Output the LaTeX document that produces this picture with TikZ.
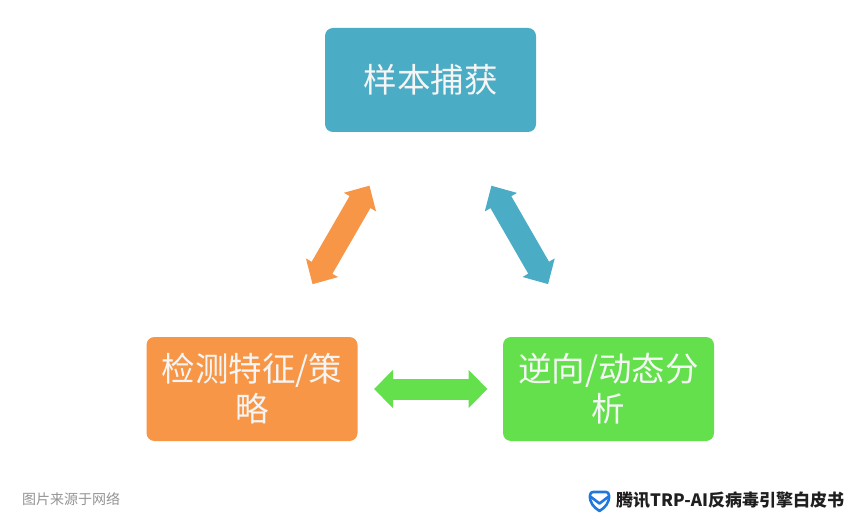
\documentclass[tikz,border=0pt]{standalone}
\usepackage{fontspec}
\usetikzlibrary{arrows.meta}
\newfontfamily\cjk{Noto Sans CJK SC}
\newcommand{\lift}[1]{\raisebox{1.5pt}{#1}}
\definecolor{bluebox}{HTML}{4BACC6}
\definecolor{orangebox}{HTML}{F79646}
\definecolor{greenbox}{HTML}{63E04C}
\definecolor{shieldblue}{HTML}{1F78E0}
\tikzset{
  procbox/.style={rounded corners=8pt,minimum width=211pt,minimum height=104pt,inner sep=0pt,align=center,text=white!96!black,
    font=\cjk\fontsize{33.5}{40}\selectfont},
  blockarrow/.style={line width=21pt,{Triangle[length=19pt,width=37pt]}-{Triangle[length=19pt,width=37pt]}},
  slantarrow/.style={line width=24pt,{Triangle[length=19pt,width=36pt]}-{Triangle[length=19pt,width=36pt]}},
  shieldline/.style={draw=shieldblue,line width=2.6pt,line join=round,line cap=round},
}
\begin{document}
\begin{tikzpicture}[x=1pt,y=-1pt]
\useasboundingbox (0,0) rectangle (864,526);
\fill[white] (0,0) rectangle (864,526);
\node[procbox,fill=bluebox] (sample) at (430.5,80) {\lift{样本捕获}};
\node[procbox,fill=orangebox] (detect) at (252,389) {\lift{检测特征/策}\\\lift{略}};
\node[procbox,fill=greenbox] (reverse) at (608.5,389) {\lift{逆向/动态分}\\\lift{析}};
\draw[slantarrow,orangebox,shorten <=122pt,shorten >=121pt] (sample.center) -- (detect.center);
\draw[slantarrow,bluebox,shorten <=122pt,shorten >=121pt] (sample.center) -- (reverse.center);
\draw[blockarrow,greenbox,shorten <=122pt,shorten >=121pt] (detect.center) -- (reverse.center);
\node[font=\cjk\fontsize{14}{16}\selectfont,text=black!42,anchor=west,inner sep=0pt] (source) at (22,499) {图片来源于网络};
\node[font=\cjk\bfseries\fontsize{17}{20}\selectfont,text=black!88,anchor=west,inner sep=0pt] (brand) at (616,500.5) {腾讯TRP-AI反病毒引擎白皮书};
\draw[shieldline] (590,495.5) .. controls (590,493) and (591.5,492) .. (593,492) -- (606,492) .. controls (607.5,492) and (609,493) .. (609,495.5) .. controls (609.5,503) and (605,507.5) .. (599.5,511) .. controls (594,507.5) and (589.5,503) .. (590,495.5) -- cycle;
\draw[shieldline] (591,497) -- (599.5,503.5) -- (608,497);
\end{tikzpicture}
\end{document}
